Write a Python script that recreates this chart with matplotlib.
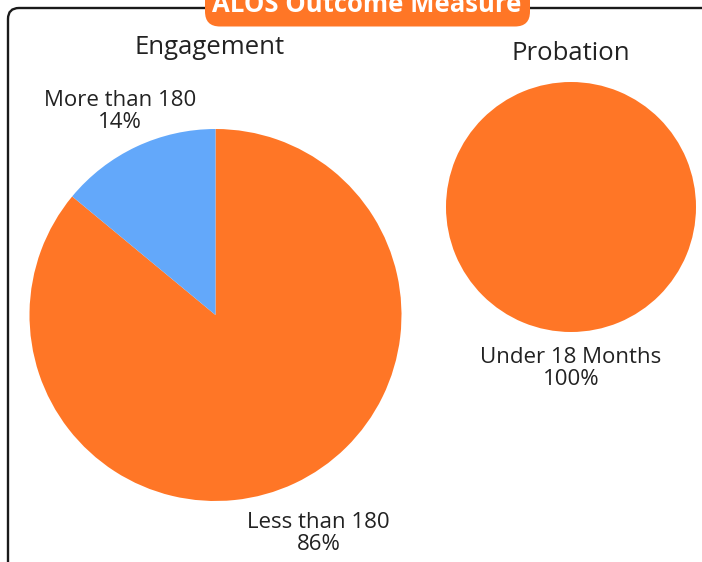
import numpy as np
import matplotlib
matplotlib.use("Agg")
import matplotlib.pyplot as plt
from matplotlib.patches import FancyBboxPatch

title = "ALOS Outcome Measure"

eng_title = "Engagement"
eng_labels = ["Less than 180", "More than 180"]
eng_values = [86, 14]

prob_title = "Probation"
prob_labels = ["Under 18 Months"]
prob_values = [100]

orange = "#FF7626"
blue = "#63A8FA"
font = "Open Sans"
fs = 16

W, H = 702, 562
fig = plt.figure(figsize=(W / 100, H / 100), dpi=100)

# pixel-space background axes for the frame, header pill and titles
bg = fig.add_axes([0, 0, 1, 1])
bg.set_xlim(0, W)
bg.set_ylim(H, 0)
bg.axis("off")

frame = FancyBboxPatch((8, 8), 760, 620, boxstyle="round,pad=0,rounding_size=11",
                       fc="white", ec="#1a1a1a", lw=1.7)
bg.add_patch(frame)
pill = FancyBboxPatch((205, -40), 325, 66.5, boxstyle="round,pad=0,rounding_size=15",
                      fc=orange, ec="none")
bg.add_patch(pill)
bg.text(367, 12, title, color="white", fontsize=18.5, fontweight="bold",
        family=font, ha="center", va="baseline")

bg.text(209.5, 54, eng_title, fontsize=18.5, family=font, color="#222222",
        ha="center", va="baseline")
bg.text(571, 60, prob_title, fontsize=18.5, family=font, color="#222222",
        ha="center", va="baseline")


def draw_pie(rect, values, labels, colors, dists):
    ax = fig.add_axes(rect)
    wedges, _ = ax.pie(values, colors=colors, startangle=90, counterclock=False,
                       radius=1, wedgeprops=dict(linewidth=0))
    total = float(sum(values))
    for w, lab, v, d in zip(wedges, labels, values, dists):
        mid = np.deg2rad((w.theta1 + w.theta2) / 2)
        ax.text(d * np.cos(mid), d * np.sin(mid), f"{lab}\n{v / total * 100:.0f}%",
                ha="center", va="center", fontsize=fs, family=font,
                color="#222222", linespacing=1.08)
    ax.set_xlim(-1, 1)
    ax.set_ylim(-1, 1)
    ax.set_aspect("equal")
    ax.axis("off")
    return ax


# Engagement pie: centre (215.5, 315), radius 186 px
draw_pie([29.5 / W, (H - 501) / H, 372 / W, 372 / H], eng_values, eng_labels,
         [orange, blue], [1.30, 1.21])
# Probation pie: centre (571, 207), radius 125 px
draw_pie([446 / W, (H - 332) / H, 250 / W, 250 / H], prob_values, prob_labels,
         [orange], [1.29])

fig.savefig("out.png", dpi=100)
